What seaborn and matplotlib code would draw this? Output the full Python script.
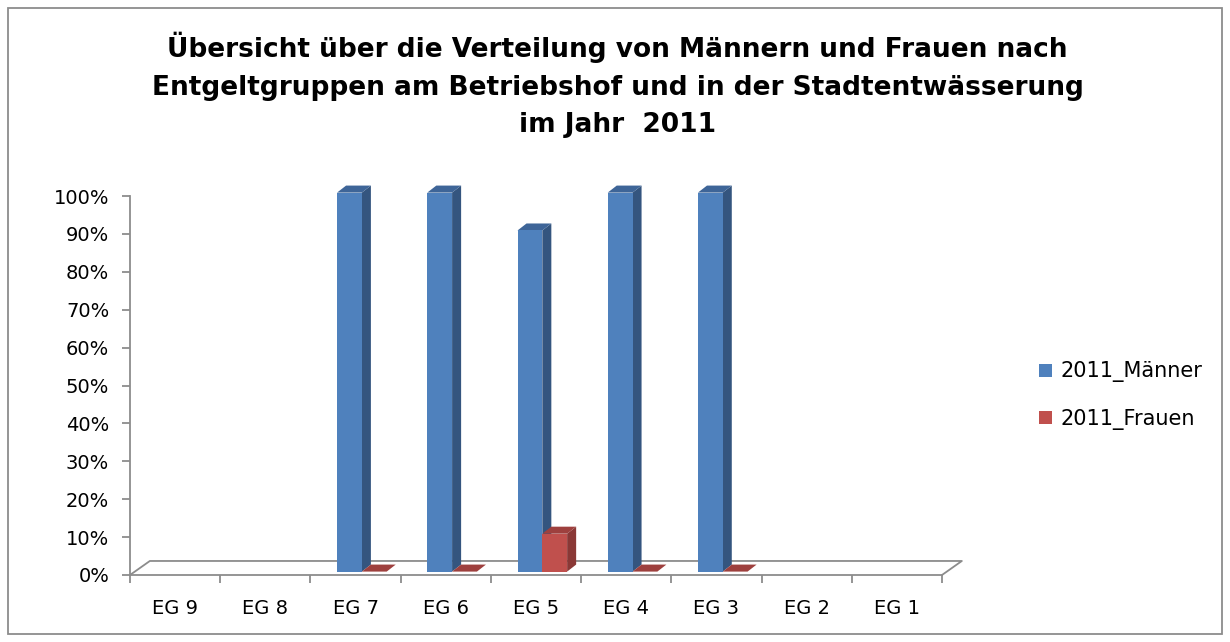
import numpy as np
import pandas as pd
import seaborn as sns
from matplotlib import pyplot as plt
from matplotlib.patches import Polygon, Rectangle

### Data ###
categories = ['EG 9', 'EG 8', 'EG 7', 'EG 6', 'EG 5', 'EG 4', 'EG 3', 'EG 2', 'EG 1']
maenner = [np.nan, np.nan, 100, 100, 90, 100, 100, np.nan, np.nan]
frauen = [np.nan, np.nan, 0, 0, 10, 0, 0, np.nan, np.nan]
series = ['2011_Männer', '2011_Frauen']
yticks = list(range(0, 101, 10))
title = ('Übersicht über die Verteilung von Männern und Frauen nach\n'
         'Entgeltgruppen am Betriebshof und in der Stadtentwässerung\n'
         'im Jahr  2011')

df = pd.DataFrame({'Entgeltgruppe': categories * 2,
                   'Anteil': maenner + frauen,
                   'Serie': [series[0]] * len(categories) + [series[1]] * len(categories)})

front = ['#4F81BD', '#C0504D']
side = ['#34557F', '#8A3836']
top = ['#3E6598', '#9E403E']
grey = '#8C8C8C'

sns.set_theme(style='white')
plt.rcParams['font.family'] = ['DejaVu Sans']
plt.rcParams['text.color'] = 'black'

fig = plt.figure(figsize=(12.3, 6.42), dpi=100)
ax = fig.add_axes([130 / 1230, 1 - 575 / 642, (942 - 130) / 1230, (575 - 196) / 642])

sns.barplot(data=df, x='Entgeltgruppe', y='Anteil', hue='Serie', order=categories,
            hue_order=series, palette=front, saturation=1, width=0.55, legend=False,
            ax=ax, errorbar=None, linewidth=0)

### 3D faces on every bar ###
dx, dy = 0.10, 1.85
shift_x, shift_y = 0.07, 0.9
for p in ax.patches:
    h = p.get_height()
    if not np.isfinite(h):
        continue
    k = 0 if p.get_facecolor()[0] < 0.5 else 1
    x0 = p.get_x() + shift_x
    y0 = shift_y
    p.set_x(x0)
    p.set_y(y0)
    x1 = x0 + p.get_width()
    z = 3 + k * 2
    p.set_zorder(z)
    p.set_clip_on(False)
    ax.add_patch(Polygon([(x1, y0), (x1 + dx, y0 + dy), (x1 + dx, y0 + h + dy), (x1, y0 + h)],
                         closed=True, facecolor=side[k], edgecolor='none', zorder=z - 0.5, clip_on=False))
    ax.add_patch(Polygon([(x0, y0 + h), (x0 + dx, y0 + h + dy), (x1 + dx, y0 + h + dy), (x1, y0 + h)],
                         closed=True, facecolor=top[k], edgecolor='none', zorder=z - 0.5, clip_on=False))

### Floor ###
fx, fy = 0.22, 3.7
ax.plot([-0.5, -0.5 + fx, 8.5 + fx, 8.5], [0, fy, fy, 0], color=grey, lw=1.3, clip_on=False, zorder=1)

ax.set_xlim(-0.5, 8.5)
ax.set_ylim(0, 100)
ax.set_yticks(yticks)
ax.set_yticklabels([f'{v}%' for v in yticks])
ax.set_xticks(range(len(categories)))
ax.set_xticklabels(categories)
ax.set_xticks(np.arange(-0.5, 9, 1), minor=True)
ax.tick_params(axis='x', which='major', length=0, pad=17, labelsize=14, labelcolor='black')
ax.tick_params(axis='x', which='minor', length=6, width=1.3, color=grey, direction='out', bottom=True)
ax.tick_params(axis='y', length=6, width=1.3, color=grey, direction='out', left=True,
               labelsize=14, pad=9, labelcolor='black')
ax.set_xlabel('')
ax.set_ylabel('')
for s in ['top', 'right']:
    ax.spines[s].set_visible(False)
for s in ['left', 'bottom']:
    ax.spines[s].set_color(grey)
    ax.spines[s].set_linewidth(1.3)

### Title ###
fig.text(0.502, 1 - 85 / 642, title, ha='center', va='center', multialignment='center',
         fontsize=19, fontweight='bold', linespacing=1.58, color='black')

### Legend ###
handles = [Rectangle((0, 0), 1, 1, facecolor=c, edgecolor='none') for c in front]
fig.legend(handles, series, loc='center left', bbox_to_anchor=(1029 / 1230, 1 - 395.5 / 642),
           frameon=False, fontsize=15, handlelength=0.6, handleheight=0.6, handletextpad=0.4,
           labelspacing=1.25, borderpad=0, labelcolor='black')

### Outer border ###
fig.patches.append(Rectangle((8 / 1230, 8 / 642), 1214 / 1230, 626 / 642, transform=fig.transFigure,
                             fill=False, edgecolor=grey, lw=1.3))

fig.savefig('out.png', dpi=100)
